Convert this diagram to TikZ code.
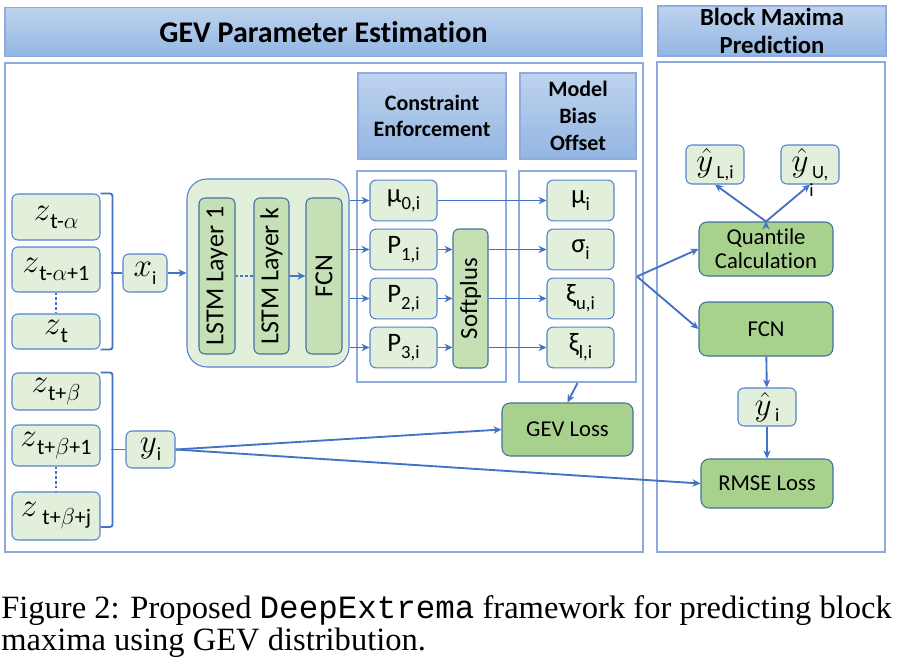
\documentclass[tikz,border=0pt]{standalone}
\usepackage{fontspec}
\setmainfont{Carlito}[Ligatures=NoCommon]
\newfontfamily\capfont{Liberation Serif}
\newfontfamily\capmono{Liberation Mono}
\usepackage{xcolor}
\usepackage{tikz}
\usetikzlibrary{arrows.meta,positioning}

\definecolor{linkblue}{RGB}{68,114,196}
\definecolor{frameblue}{RGB}{143,170,220}
\definecolor{edgeblue}{RGB}{84,130,208}
\definecolor{darkedge}{RGB}{65,113,156}
\definecolor{palegreen}{RGB}{226,239,218}
\definecolor{midgreen}{RGB}{197,224,180}
\definecolor{deepgreen}{RGB}{169,209,142}
\definecolor{headtop}{RGB}{190,211,238}
\definecolor{headbot}{RGB}{146,182,227}

\newcommand{\bigvar}[1]{{\fontsize{27}{27}\selectfont$#1$}}
\newcommand{\lowsub}[1]{\raisebox{-6pt}{#1}}
\newcommand{\gsym}[2]{{\fontsize{20}{20}\selectfont #1}{\fontsize{14}{14}\selectfont\raisebox{-5pt}{#2}}}
\newcommand{\hatsub}[1]{\bigvar{\hat{y}}\hspace{2.5pt}{\fontsize{14}{14}\selectfont\raisebox{-5pt}{#1}}}

\begin{document}
\begin{tikzpicture}[x=0.75pt,y=-0.75pt,on grid,node distance=36.75pt,
		>={Stealth[length=6pt,width=5.5pt]},
		font=\fontsize{16.5}{19}\selectfont,
		frame/.style={draw=frameblue,line width=1.5pt,inner sep=0pt},
		head/.style={draw=frameblue,line width=0.8pt,top color=headtop,bottom color=headbot,align=center,inner sep=0pt},
		light/.style={draw=edgeblue,fill=palegreen,rounded corners=4.5pt,line width=0.8pt,inner sep=0pt,minimum width=50.25pt,minimum height=30.5pt},
		layer/.style={draw=darkedge,fill=midgreen,rounded corners=4.5pt,line width=0.8pt,inner sep=0pt,font=\fontsize{19.5}{20}\selectfont},
		dark/.style={draw=darkedge,fill=deepgreen,rounded corners=6pt,line width=0.8pt,align=center,inner sep=0pt,font=\fontsize{17}{20}\selectfont},
		link/.style={draw=linkblue,line width=1.4pt}]
	\useasboundingbox (0,0) rectangle (898,660);
	
	% frames and headers
	\node[head,minimum width=477.75pt,minimum height=36.75pt,font=\fontsize{22.5}{24}\bfseries] (h1) at (323.5,32) {GEV Parameter Estimation};
	\node[head,minimum width=171pt,minimum height=37.5pt,font=\fontsize{18.5}{20.5}\bfseries] (h2) at (772,31) {Block Maxima\\Prediction};
	\node[frame,minimum width=478.5pt,minimum height=366.75pt] (left) at (324,307.5) {};
	\node[frame,minimum width=171pt,minimum height=367.5pt] (right) at (771,307) {};
	\node[head,minimum width=111pt,minimum height=64.5pt,font=\fontsize{16.5}{20}\bfseries] (h3) at (432,116) {Constraint\\Enforcement};
	\node[head,minimum width=87pt,minimum height=64.5pt,font=\fontsize{16.5}{20}\bfseries] (h4) at (578,116) {Model\\Bias\\Offset};
	\node[frame,minimum width=111.75pt,minimum height=158.25pt] (ce) at (431.5,276.5) {};
	\node[frame,minimum width=87.75pt,minimum height=158.25pt] (mb) at (577.5,276.5) {};
	
	% inputs
	\node[light,minimum width=66pt,minimum height=34.5pt] (z0) at (56,217) {\bigvar{z}\lowsub{t-$\alpha$}};
	\node[light,minimum width=66pt,minimum height=33.75pt] (z1) at (56,269.5) {\bigvar{z}\lowsub{t-$\alpha$+1}};
	\node[light,minimum width=66pt,minimum height=26.25pt] (z2) at (56,331.5) {\bigvar{z}\lowsub{t}};
	\node[light,minimum width=66pt,minimum height=27.75pt] (z3) at (56,391.5) {\bigvar{z}\lowsub{t+$\beta$}};
	\node[light,minimum width=66pt,minimum height=30.75pt] (z4) at (56,445.5) {\bigvar{z}\lowsub{t+$\beta$+1}};
	\node[light,minimum width=66pt,minimum height=36pt] (z5) at (56,516) {\bigvar{z}\ \lowsub{t+$\beta$+j}};
	\node[light,minimum width=33pt,minimum height=28.5pt] (x0) at (145,273) {\bigvar{x}{\fontsize{14}{14}\selectfont\lowsub{i}}};
	\node[light,minimum width=36.75pt,minimum height=27.75pt] (y0) at (150.5,449.5) {\bigvar{y}{\fontsize{14}{14}\selectfont\lowsub{i}}};
	
	% network
	\node[draw=edgeblue,fill=palegreen,line width=0.8pt,rounded corners=15pt,minimum width=121.5pt,minimum height=141pt] (net) at (268,273) {};
	\node[layer,minimum width=27pt,minimum height=117pt] (l1) at (217,276) {\rotatebox{90}{LSTM Layer 1}};
	\node[layer,minimum width=26.25pt,minimum height=117pt] (lk) at (271.5,276) {\rotatebox{90}{LSTM Layer k}};
	\node[layer,minimum width=27pt,minimum height=117pt] (f1) at (324,276) {\rotatebox{90}{FCN}};
	
	% constraint enforcement
	\node[light] (m0) at (403.5,200.5) {\gsym{μ}{0,i}};
	\node[light] (p1) [below=of m0] {\gsym{P}{1,i}};
	\node[light] (p2) [below=of p1] {\gsym{P}{2,i}};
	\node[light] (p3) [below=of p2] {\gsym{P}{3,i}};
	\node[layer,minimum width=26.25pt,minimum height=104.25pt,font=\fontsize{18.5}{20}\selectfont] (sp) at (470.5,298.5) {\rotatebox{90}{Softplus}};
	
	% model bias offset
	\node[light] (mu) [right=132.75pt of m0] {\gsym{μ}{i}};
	\node[light] (sg) [below=of mu] {\gsym{σ}{i}};
	\node[light] (xu) [below=of sg] {\gsym{ξ}{u,i}};
	\node[light] (xl) [below=of xu] {\gsym{ξ}{l,i}};
	\node[dark,minimum width=98.25pt,minimum height=39.75pt] (gev) at (567.5,429.5) {GEV Loss};
	
	% block maxima prediction
	\node[light,minimum width=43.5pt,minimum height=29.25pt] (yl) at (715,164.5) {\hatsub{L,i}};
	\node[light,minimum width=43.5pt,minimum height=29.25pt] (yu) at (810,164.5) {\raisebox{3pt}{\hatsub{U,}}\llap{\smash{\fontsize{14}{14}\selectfont\raisebox{-16pt}{i}}\hspace{11pt}}};
	\node[dark,minimum width=100.5pt,minimum height=40.5pt] (qc) at (766,249) {Quantile\\[-2pt]Calculation};
	\node[dark,minimum width=100.5pt,minimum height=40.5pt] (f2) [below=60pt of qc] {FCN};
	\node[light,minimum width=43.5pt,minimum height=28.5pt] (yh) at (767,407) {\hatsub{i}};
	\node[dark,minimum width=99pt,minimum height=36.75pt] (rm) at (767,483.5) {RMSE Loss};
	
	% brackets
	\draw[link,rounded corners=2pt] (z0.north east) -- ++(12,0) |- (z2.south east);
	\draw[link] (x0.west) -- ++(-11,0);
	\draw[link,rounded corners=2pt] (z3.north east) -- ++(12,0) |- ([yshift=-8.25pt]z5.east);
	\draw[link] (y0.west) -- ++(-14,0);
	\draw[link,dash pattern=on 2pt off 1.6pt] (z1) -- (z2);
	\draw[link,dash pattern=on 2pt off 1.6pt] (z4) -- (z5);
	\draw[link,dash pattern=on 2pt off 1.6pt] (l1) -- (lk);
	
	\path[link,->]
	(x0) edge (net)
	(lk) edge (f1)
	(net.east |- m0) edge (m0)
	(net.east |- p1) edge (p1)
	(net.east |- p2) edge (p2)
	(net.east |- p3) edge (p3)
	(m0) edge (mu)
	(p1) edge (sp.west |- p1)
	(p2) edge (sp.west |- p2)
	(p3) edge (sp.west |- p3)
	(sp.east |- sg) edge (sg)
	(sp.east |- xu) edge (xu)
	(sp.east |- xl) edge (xl)
	(mb.south) edge (gev.north)
	(y0.east) edge (gev.west)
	(y0.east) edge (rm.west)
	(mb.east) edge (qc.west)
	(mb.east) edge (f2.west)
	(qc.north) edge (yl.south)
	(qc.north) edge (yu.south)
	(f2) edge (yh)
	(yh) edge (rm);
	
	% caption
	\node[anchor=base west,align=left,inner sep=0pt,font=\capfont\fontsize{24.4}{24}\selectfont] (cap) at (1,650) {Figure 2: Proposed {\capmono DeepExtrema} framework for predicting block\\maxima using GEV distribution.};
\end{tikzpicture}
\end{document}
